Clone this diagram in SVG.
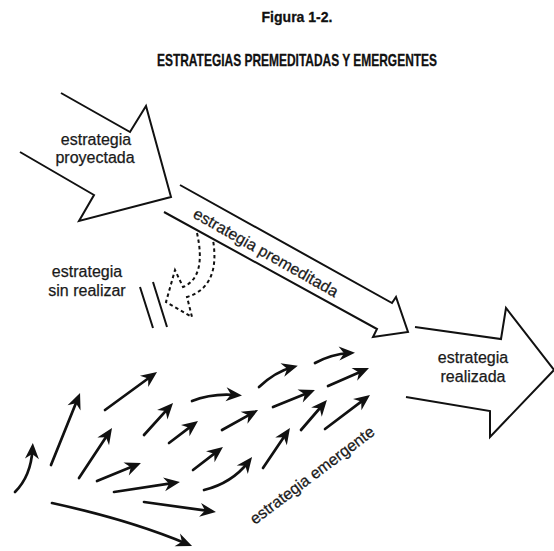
<svg xmlns="http://www.w3.org/2000/svg" width="554" height="551" viewBox="0 0 554 551">
<style>
.title{font-family:"Liberation Sans",Arial,sans-serif;font-weight:bold;fill:#111;stroke:#111;stroke-width:0.3;}
.lbl{font-family:"Liberation Sans",Arial,sans-serif;font-size:16px;fill:#1a1a1a;stroke:#1a1a1a;stroke-width:0.25;}
.big{fill:none;stroke:#111;stroke-width:2;stroke-linejoin:miter;}
.dash{fill:none;stroke:#111;stroke-width:2;stroke-dasharray:3.5,3;}
.em{fill:none;stroke:#111;stroke-width:2.7;stroke-linecap:round;marker-end:url(#ah);}
</style>
<defs>
<marker id="ah" markerUnits="userSpaceOnUse" markerWidth="30" markerHeight="30" refX="0" refY="0" orient="auto" overflow="visible" viewBox="-15 -15 30 30">
<path d="M6,0 L-10,-7 L-5,0 L-10,7 Z" fill="#111"/>
</marker>
</defs>
<rect width="554" height="551" fill="#fff"/>
<g id="title">
<text class="title" x="297" y="22" font-size="15" text-anchor="middle" textLength="71" lengthAdjust="spacingAndGlyphs">Figura 1-2.</text>
<text class="title" x="297" y="66" font-size="17" text-anchor="middle" textLength="280" lengthAdjust="spacingAndGlyphs">ESTRATEGIAS PREMEDITADAS Y EMERGENTES</text>
</g>
<g id="proyectada">
<path class="big" d="M61,93 L130,132 L146,106 L171,197 L79,221 L94,195 L20,152"/>
<text class="lbl" x="96" y="145" text-anchor="middle">estrategia</text>
<text class="lbl" x="95" y="163" text-anchor="middle">proyectada</text>
</g>
<g id="premeditada">
<path class="big" d="M180,185 L392,303 L396,297 L408,332 L373,337 L377,329 L164,212"/>
<text class="lbl" transform="translate(192,217) rotate(29.5)">estrategia premeditada</text>
</g>
<g id="sin-realizar">
<path class="dash" d="M197,233 C203,260 200,280 183,287 L175,270 L166,302 L192,317 L187,297 C210,290 218,270 213,240"/>
<path class="big" d="M140,287 L153,328 M153,282 L167,327"/>
<text class="lbl" x="87" y="277" text-anchor="middle">estrategia</text>
<text class="lbl" x="87" y="296" text-anchor="middle">sin realizar</text>
</g>
<g id="realizada">
<path class="big" d="M415,327 L501,339 L506,308 L554,370 L490,437 L490,411 L406,397"/>
<text class="lbl" x="473" y="363" text-anchor="middle">estrategia</text>
<text class="lbl" x="473" y="382" text-anchor="middle">realizada</text>
</g>
<g id="emergente">
<g id="connectors">
<path class="em" d="M15,492 Q31,476 32.5,449"/>
<path class="em" d="M51,465 L77.8,398.5"/>
<path class="em" d="M105,410 L152.2,375.5"/>
<path class="em" d="M79,478 L108.7,433"/>
<path class="em" d="M144,435 L169,407.4"/>
<path class="em" d="M192,401 Q212,393 236,395"/>
<path class="em" d="M97,481 L135.4,465.3"/>
<path class="em" d="M169,443 L193.2,424.6"/>
<path class="em" d="M222,430 L252.8,412.9"/>
<path class="em" d="M193,470 L218.2,450.6"/>
<path class="em" d="M114,492 L174,482.9"/>
<path class="em" d="M204,490 Q232,483 248.4,461.8"/>
<path class="em" d="M144,502 L210,511.2"/>
<path class="em" d="M52,503 Q130,520 186.5,543.7"/>
<path class="em" d="M259,387 Q275,372 292,367.3"/>
<path class="em" d="M273,407 L309.4,392.3"/>
<path class="em" d="M315,363 Q332,354 349,353"/>
<path class="em" d="M328,386 L363.5,370.4"/>
<path class="em" d="M263,468 L286.6,433"/>
<path class="em" d="M301,430 L323,404.5"/>
<path class="em" d="M325,429 L365.2,398.6"/>
</g>
<text class="lbl" transform="translate(255,525) rotate(-37)">estrategia emergente</text>
</g>
</svg>
